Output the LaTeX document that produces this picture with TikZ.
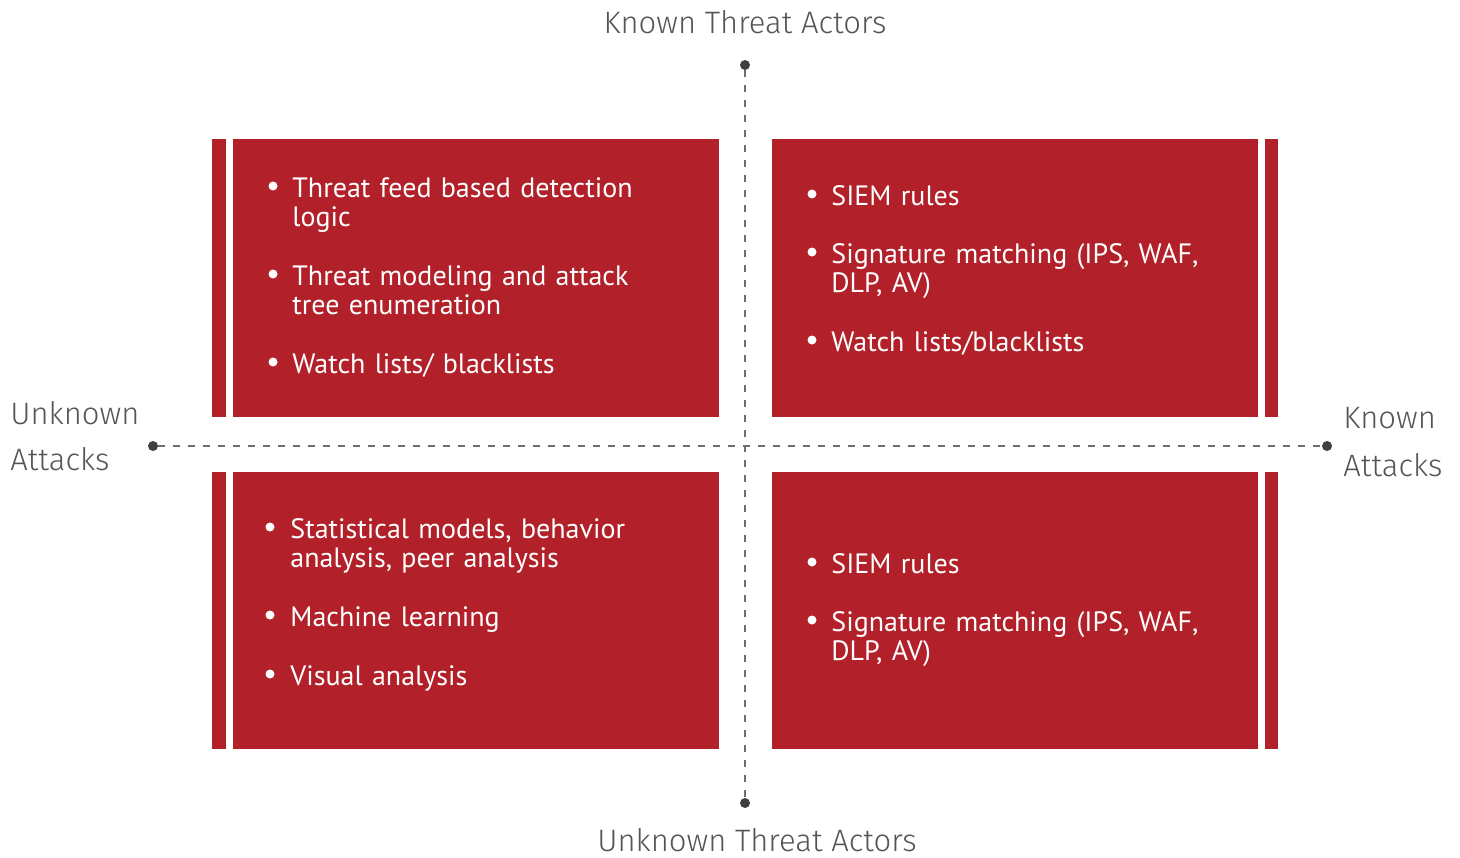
\documentclass[tikz,border=0pt]{standalone}
\usepackage{fontspec}
\setmainfont{PT Sans}
\newfontfamily\axisfont{Fira Sans Light}
\begin{document}
\begin{tikzpicture}[x=0.5pt, y=-0.5pt]
    % colours of the quadrant chart
    \definecolor{boxred}{RGB}{178, 32, 41}
    \definecolor{axisgray}{RGB}{110, 110, 110}
    \definecolor{dotgray}{RGB}{64, 64, 64}
    \definecolor{labelgray}{RGB}{85, 85, 85}
    \tikzset{
        panel/.style={fill=boxred},
        axisline/.style={draw=axisgray, line width=1.2pt, dash pattern=on 3.5pt off 4pt},
        axisend/.style={circle, fill=dotgray, inner sep=0pt, minimum size=5pt},
        axislabel/.style={inner sep=0pt, text=labelgray, font=\axisfont\fontsize{15.5}{24}\selectfont},
        bulletdot/.style={circle, fill=white, inner sep=0pt, minimum size=4.5pt},
        itemtext/.style={anchor=base west, inner sep=0pt, text=white, align=left,
            text width=220pt, font=\fontsize{14}{14.5}\selectfont}
    }
    \useasboundingbox (0,0) rectangle (1460,857);

    % 1. Red panels with the thin side bars
    \fill[panel] (212,139) rectangle (226,417);
    \fill[panel] (233,139) rectangle (719,417);
    \fill[panel] (772,139) rectangle (1258,417);
    \fill[panel] (1265,139) rectangle (1278,417);
    \fill[panel] (212,472) rectangle (226,749);
    \fill[panel] (233,472) rectangle (719,749);
    \fill[panel] (772,472) rectangle (1258,749);
    \fill[panel] (1265,472) rectangle (1278,749);

    % 2. Dashed axes
    \node[axisend] (top) at (745,65) {};
    \node[axisend] (bottom) at (745,803) {};
    \node[axisend] (left) at (153,446) {};
    \node[axisend] (right) at (1327,446) {};
    \draw[axisline] (top) -- (bottom);
    \draw[axisline] (left) -- (right);

    % 3. Axis labels
    \node[axislabel, anchor=base] (knownactors) at (745,33) {Known Threat Actors};
    \node[axislabel, anchor=base] (unknownactors) at (757,851) {Unknown Threat Actors};
    \node[axislabel, anchor=base west] (unknownatt) at (10,424) {Unknown};
    \node[axislabel, anchor=base west] (unknownatt2) at (10,470) {Attacks};
    \node[axislabel, anchor=base west] (knownatt) at (1343,428) {Known};
    \node[axislabel, anchor=base west] (knownatt2) at (1343,476) {Attacks};

    % 4. Top left panel
    \node[bulletdot] (tla) at (273,186) {};
    \node[itemtext] (tlatext) at (292,197) {Threat feed based detection\\logic};
    \node[bulletdot] (tlb) at (273,274) {};
    \node[itemtext] (tlbtext) at (292,285) {Threat modeling and attack\\tree enumeration};
    \node[bulletdot] (tlc) at (273,362) {};
    \node[itemtext] (tlctext) at (292,373) {Watch lists/ blacklists};

    % 5. Top right panel
    \node[bulletdot] (tra) at (812,194) {};
    \node[itemtext] (tratext) at (831,205) {SIEM rules};
    \node[bulletdot] (trb) at (812,252) {};
    \node[itemtext] (trbtext) at (831,263) {Signature matching (IPS, WAF,\\DLP, AV)};
    \node[bulletdot] (trc) at (812,340) {};
    \node[itemtext] (trctext) at (831,351) {Watch lists/blacklists};

    % 6. Bottom left panel
    \node[bulletdot] (bla) at (270,527) {};
    \node[itemtext] (blatext) at (290,538) {Statistical models, behavior\\analysis, peer analysis};
    \node[bulletdot] (blb) at (270,615) {};
    \node[itemtext] (blbtext) at (290,626) {Machine learning};
    \node[bulletdot] (blc) at (270,674) {};
    \node[itemtext] (blctext) at (290,685) {Visual analysis};

    % 7. Bottom right panel
    \node[bulletdot] (bra) at (812,562) {};
    \node[itemtext] (bratext) at (831,573) {SIEM rules};
    \node[bulletdot] (brb) at (812,620) {};
    \node[itemtext] (brbtext) at (831,631) {Signature matching (IPS, WAF,\\DLP, AV)};
\end{tikzpicture}
\end{document}
